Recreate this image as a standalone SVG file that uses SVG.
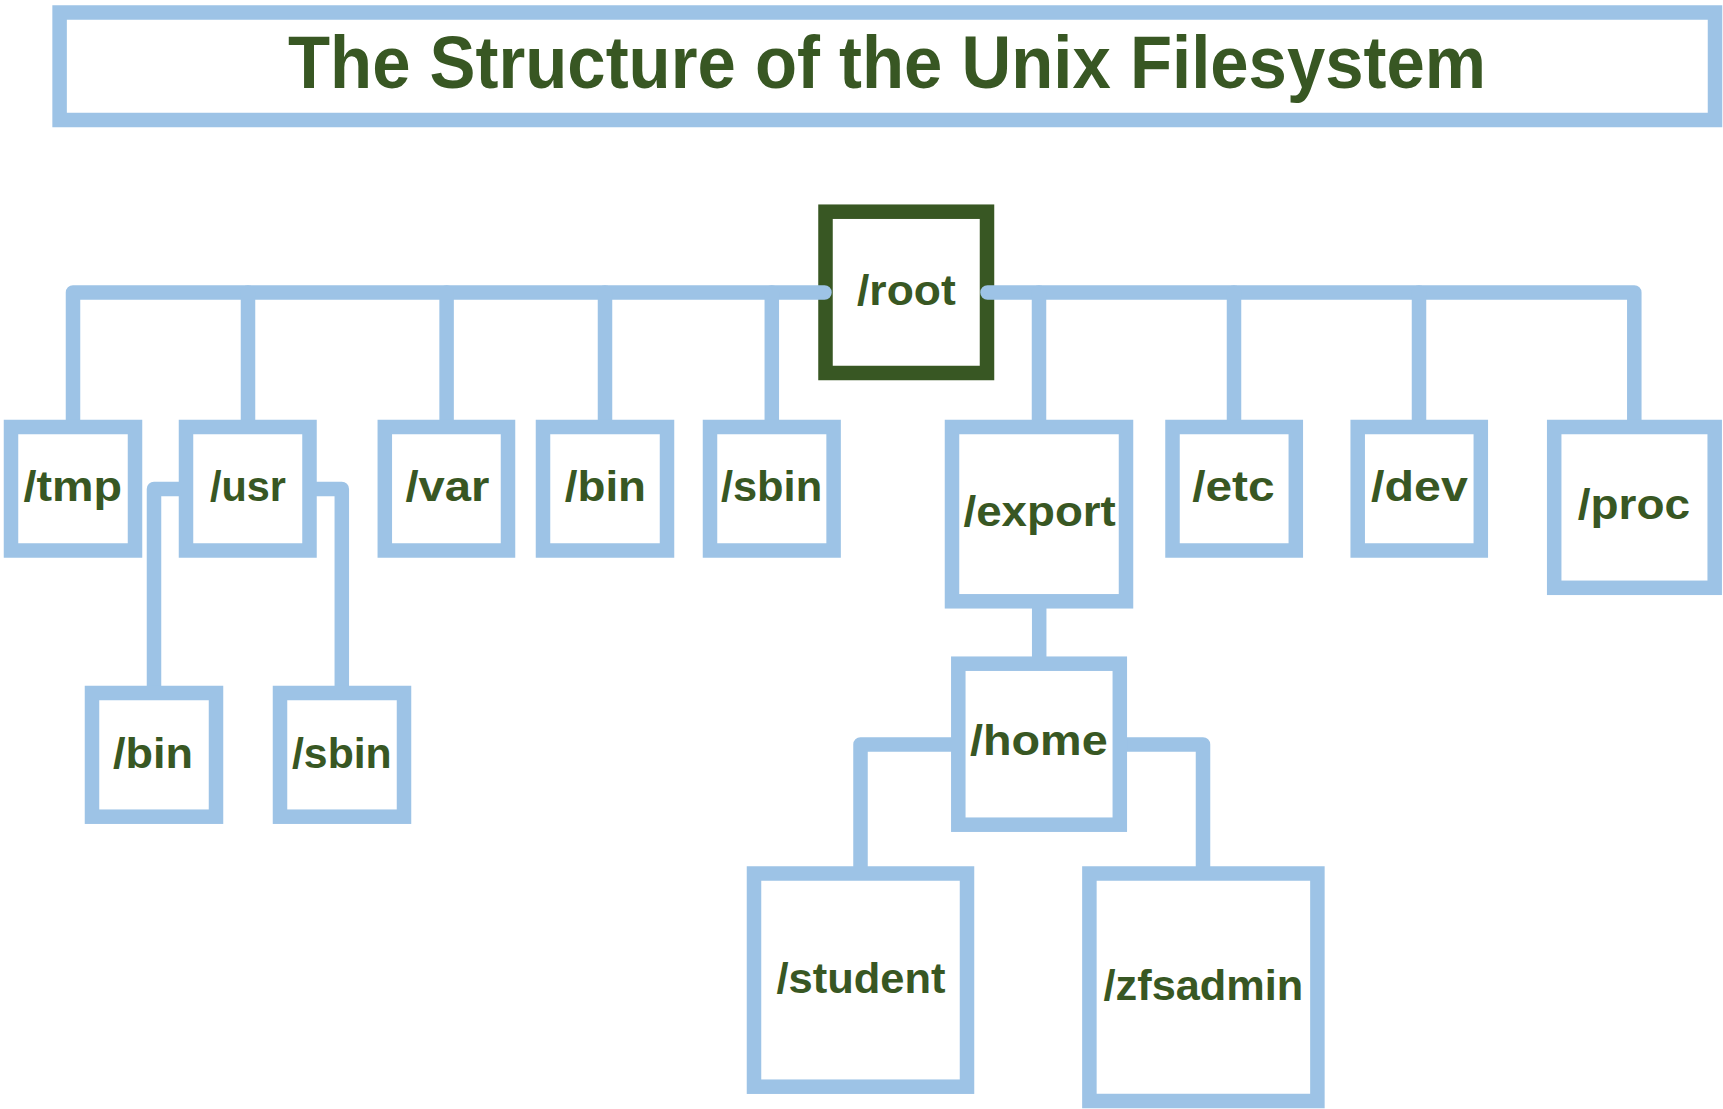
<svg xmlns="http://www.w3.org/2000/svg" width="1723" height="1109" viewBox="0 0 1723 1109">
<style>
.box{fill:#FFFFFF;stroke:#9DC3E6;stroke-width:14.5}
.rootbox{fill:#FFFFFF;stroke:#385723;stroke-width:14.5}
.conn{fill:none;stroke:#9DC3E6;stroke-width:14.5;stroke-linejoin:round;stroke-linecap:round}
.lbl{font-family:"Liberation Sans",Arial,sans-serif;font-weight:bold;font-size:42px;fill:#385723}
.title{font-family:"Liberation Sans",Arial,sans-serif;font-weight:bold;font-size:74px;fill:#385723}
</style>
<rect width="1723" height="1109" fill="#FFFFFF"/>
<g id="title">
<rect class="box" x="59.6" y="12.5" width="1655.4" height="107.5"/>
<text class="title" x="288" y="88" textLength="1198" lengthAdjust="spacingAndGlyphs">The Structure of the Unix Filesystem</text>
</g>
<g id="node-root">
<rect class="rootbox" x="825.5" y="211.7" width="161.5" height="161.3"/>
<text class="lbl" x="857" y="305" textLength="98.7" lengthAdjust="spacingAndGlyphs">/root</text>
</g>
<g id="connectors">
<path class="conn" d="M824.5 292.5 H73 V427"/>
<path class="conn" d="M248 292.5 V427"/>
<path class="conn" d="M446.6 292.5 V427"/>
<path class="conn" d="M605 292.5 V427"/>
<path class="conn" d="M771.8 292.5 V427"/>
<path class="conn" d="M987.5 292.5 H1634.3 V427"/>
<path class="conn" d="M1039 292.5 V427"/>
<path class="conn" d="M1234 292.5 V427"/>
<path class="conn" d="M1419 292.5 V427"/>
<path class="conn" d="M186 489 H154 V693"/>
<path class="conn" d="M309.5 489 H341.8 V693"/>
<path class="conn" d="M1039.2 601 V663.7"/>
<path class="conn" d="M958.3 744.5 H860.5 V873.5"/>
<path class="conn" d="M1119.8 744.5 H1203 V873.5"/>
</g>
<g id="node-tmp">
<rect class="box" x="11" y="427" width="124" height="123.5"/>
<text class="lbl" x="23.5" y="500.5" textLength="98.5" lengthAdjust="spacingAndGlyphs">/tmp</text>
</g>
<g id="node-usr">
<rect class="box" x="186" y="427" width="123.5" height="123.5"/>
<text class="lbl" x="210" y="500.5" textLength="76" lengthAdjust="spacingAndGlyphs">/usr</text>
</g>
<g id="node-var">
<rect class="box" x="384.8" y="427" width="123.2" height="123.5"/>
<text class="lbl" x="405.4" y="500.5" textLength="84" lengthAdjust="spacingAndGlyphs">/var</text>
</g>
<g id="node-bin">
<rect class="box" x="543" y="427" width="124" height="123.5"/>
<text class="lbl" x="564.8" y="500.5" textLength="81.2" lengthAdjust="spacingAndGlyphs">/bin</text>
</g>
<g id="node-sbin">
<rect class="box" x="710" y="427" width="123.6" height="123.5"/>
<text class="lbl" x="720.9" y="500.5" textLength="101.3" lengthAdjust="spacingAndGlyphs">/sbin</text>
</g>
<g id="node-export">
<rect class="box" x="952" y="427" width="174" height="174.3"/>
<text class="lbl" x="963.5" y="526" textLength="152.3" lengthAdjust="spacingAndGlyphs">/export</text>
</g>
<g id="node-etc">
<rect class="box" x="1172.5" y="427" width="123.3" height="123.5"/>
<text class="lbl" x="1192.2" y="500.7" textLength="82.4" lengthAdjust="spacingAndGlyphs">/etc</text>
</g>
<g id="node-dev">
<rect class="box" x="1357.7" y="427" width="123.1" height="123.5"/>
<text class="lbl" x="1371" y="500.7" textLength="96.8" lengthAdjust="spacingAndGlyphs">/dev</text>
</g>
<g id="node-proc">
<rect class="box" x="1554.2" y="427" width="160.5" height="160.8"/>
<text class="lbl" x="1577.7" y="519.3" textLength="112.3" lengthAdjust="spacingAndGlyphs">/proc</text>
</g>
<g id="node-usr-bin">
<rect class="box" x="92" y="693" width="124" height="123.7"/>
<text class="lbl" x="113" y="768" textLength="80" lengthAdjust="spacingAndGlyphs">/bin</text>
</g>
<g id="node-usr-sbin">
<rect class="box" x="280" y="693" width="124" height="123.7"/>
<text class="lbl" x="292" y="768" textLength="99.7" lengthAdjust="spacingAndGlyphs">/sbin</text>
</g>
<g id="node-home">
<rect class="box" x="958.3" y="663.7" width="161.5" height="161"/>
<text class="lbl" x="970" y="754.5" textLength="137.7" lengthAdjust="spacingAndGlyphs">/home</text>
</g>
<g id="node-student">
<rect class="box" x="754" y="873.5" width="213" height="213.2"/>
<text class="lbl" x="776.4" y="992.7" textLength="169.1" lengthAdjust="spacingAndGlyphs">/student</text>
</g>
<g id="node-zfsadmin">
<rect class="box" x="1089.4" y="873.5" width="228" height="227.5"/>
<text class="lbl" x="1103.6" y="1000" textLength="199.7" lengthAdjust="spacingAndGlyphs">/zfsadmin</text>
</g>
</svg>
